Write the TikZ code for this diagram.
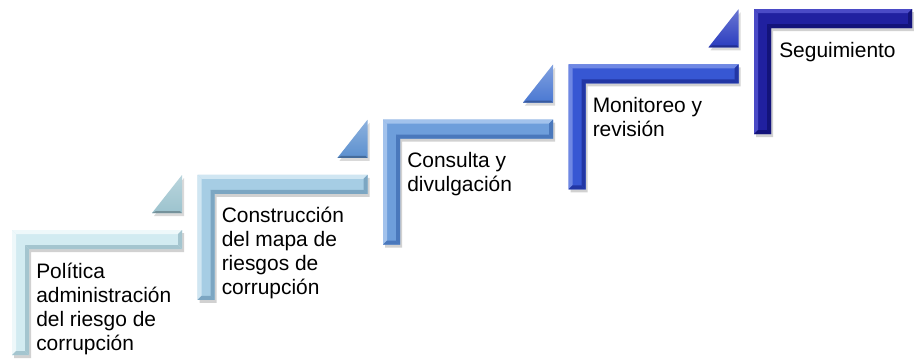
\documentclass[tikz,border=0pt]{standalone}
\usepackage{fontspec}
\setmainfont{Liberation Sans}
\definecolor{cAb}{HTML}{D2EBF1}\definecolor{cAl}{HTML}{EEF8FA}\definecolor{cAd}{HTML}{A4C5CF}
\definecolor{cBb}{HTML}{A6CDE4}\definecolor{cBl}{HTML}{D0E6F2}\definecolor{cBd}{HTML}{7CA6C2}
\definecolor{cCb}{HTML}{6E9EDB}\definecolor{cCl}{HTML}{A2C2EC}\definecolor{cCd}{HTML}{4A78BC}
\definecolor{cDb}{HTML}{3757D3}\definecolor{cDl}{HTML}{6F88E4}\definecolor{cDd}{HTML}{2236A4}
\definecolor{cEb}{HTML}{2020A0}\definecolor{cEl}{HTML}{4A4AC6}\definecolor{cEd}{HTML}{13137A}
\definecolor{tA}{HTML}{9CC3CE}\definecolor{tB}{HTML}{5C90CF}\definecolor{tC}{HTML}{4A78D2}\definecolor{tD}{HTML}{2A3CBF}
\newcommand\drawstepL[6]{%
  % #1 x0, #2 y0, #3 W, #4 base, #5 light, #6 dark
  \fill[black,opacity=.18] (#1+2,#2+3) -- (#1+#3+2,#2+3) -- (#1+#3+2,#2+22) -- (#1+19,#2+22) -- (#1+19,#2+128) -- (#1+2,#2+128) -- cycle;
  \fill[#4] (#1,#2) -- (#1+#3,#2) -- (#1+#3,#2+19) -- (#1+17,#2+19) -- (#1+17,#2+125) -- (#1,#2+125) -- cycle;
  \fill[#5] (#1,#2) -- (#1+#3,#2) -- (#1+#3-4,#2+4) -- (#1+4,#2+4) -- cycle;
  \fill[#5] (#1,#2) -- (#1+4,#2+4) -- (#1+4,#2+121) -- (#1,#2+125) -- cycle;
  \fill[#6] (#1+#3,#2) -- (#1+#3,#2+19) -- (#1+#3-4,#2+15) -- (#1+#3-4,#2+4) -- cycle;
  \fill[#6] (#1+#3,#2+19) -- (#1+17,#2+19) -- (#1+13,#2+15) -- (#1+#3-4,#2+15) -- cycle;
  \fill[#6] (#1+17,#2+19) -- (#1+17,#2+125) -- (#1+13,#2+121) -- (#1+13,#2+15) -- cycle;
  \fill[#6] (#1+17,#2+125) -- (#1,#2+125) -- (#1+4,#2+121) -- (#1+13,#2+121) -- cycle;
}
\newcommand\drawsteptri[3]{%
  \fill[black,opacity=.15] (#1+170-30+2,#2-17+3) -- (#1+170+2,#2-17+3) -- (#1+170+2,#2-55+3) -- cycle;
  \shade[top color=#3!70!white,bottom color=#3] (#1+170-30,#2-17) -- (#1+170,#2-17) -- (#1+170,#2-55) -- cycle;
  \fill[#3!75!black] (#1+170-30,#2-17) -- (#1+170,#2-17) -- (#1+168,#2-19) -- (#1+170-26,#2-19) -- cycle;
}
\tikzset{steptext/.style={anchor=base west,inner sep=0pt,align=left,
  font=\fontsize{15.7}{18}\selectfont,text=black}}
\begin{document}
\begin{tikzpicture}[x=0.75pt,y=-0.75pt]
\useasboundingbox[fill=white] (0,0) rectangle (914,362);
\drawstepL{12}{230}{170}{cAb}{cAl}{cAd}
\drawsteptri{12}{230}{tA}
\drawstepL{197.5}{174.75}{170}{cBb}{cBl}{cBd}
\drawsteptri{197.5}{174.75}{tB}
\drawstepL{383}{119.5}{170}{cCb}{cCl}{cCd}
\drawsteptri{383}{119.5}{tC}
\drawstepL{568.5}{64.25}{170}{cDb}{cDl}{cDd}
\drawsteptri{568.5}{64.25}{tD}
\drawstepL{754}{9}{158}{cEb}{cEl}{cEd}
% base anchor = baseline of the last line
\node[steptext] (s1) at (36,350) {Política\\administración\\del riesgo de\\corrupción};
\node[steptext] (s2) at (221.5,294.75) {Construcción\\del mapa de\\riesgos de\\corrupción};
\node[steptext] (s3) at (407,191.5) {Consulta y\\divulgación};
\node[steptext] (s4) at (592.5,136.25) {Monitoreo y\\revisión};
\node[steptext] (s5) at (779,57) {Seguimiento};
\end{tikzpicture}
\end{document}
